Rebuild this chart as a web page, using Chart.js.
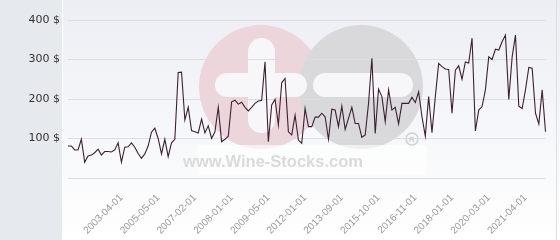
<!DOCTYPE html>
<html>
<head>
<meta charset="utf-8">
<script src="https://cdn.jsdelivr.net/npm/chart.js@4.4.1/dist/chart.umd.min.js"></script>
<style>
  html, body { margin: 0; padding: 0; background: #fff; }
  #wrap { width: 560px; height: 240px; position: relative; }
</style>
</head>
<body>
<div id="wrap"><canvas id="prix"></canvas></div>
<script>
// dates shown under the axis, one every tickStep points
const tickDates = ["2003-04-01", "2005-05-01", "2007-02-01", "2008-01-01", "2009-05-01", "2012-01-01",
  "2013-09-01", "2015-10-01", "2016-11-01", "2018-01-01", "2020-03-01", "2021-04-01"];
const firstTick = 16;
const tickStep = 11;

// prix en $
const prix = [
  81, 81, 71, 71, 98, 40, 56, 58, 64, 73, 58, 67, 67, 66, 71, 89, 40, 78, 79, 89,
  78, 62, 50, 61, 81, 116, 126, 100, 61, 98, 54, 89, 98, 267, 268, 147, 179, 120, 117, 114,
  149, 114, 132, 100, 117, 179, 92, 98,
  106, 193, 197, 187, 192, 179, 170, 179, 189, 195, 197, 294, 92, 185, 199, 134, 241, 252, 117, 109,
  159, 96, 88, 176, 130, 130, 154, 154, 164, 155, 98, 174, 172, 130, 182, 123, 151, 179, 138, 138,
  103, 109, 189, 303, 113, 225, 206,
  143, 223, 172, 179, 137, 189, 189, 189, 204, 191, 218, 155, 106, 206, 115, 206, 290, 282, 276, 275,
  164, 273, 284, 250, 294, 291, 354, 119, 172, 181, 223, 307, 300, 326, 324, 345, 362, 199, 306, 362,
  182, 176, 223, 280, 278, 164, 137, 223, 117
];
const yTicks = [0, 100, 200, 300, 400];

const labels = prix.map((v, i) => {
  const k = (i - firstTick) / tickStep;
  return (k >= 0 && Number.isInteger(k) && k < tickDates.length) ? tickDates[k] : "";
});

function barre(ctx, x, y, w, h) {
  ctx.beginPath();
  ctx.roundRect(x, y, w, h, Math.min(w, h) / 2);
  ctx.fill();
}

// fond gris a gauche, degrade, et logo en filigrane
const fond = {
  id: "fond",
  beforeDraw: (chart) => {
    const ctx = chart.ctx;
    const W = chart.width, H = chart.height;
    ctx.save();
    ctx.fillStyle = "#e6eaee";
    ctx.fillRect(0, 0, 62, H);
    const g = ctx.createLinearGradient(0, 0, 0, H);
    g.addColorStop(0, "#eceef4");
    g.addColorStop(1, "#ffffff");
    ctx.fillStyle = g;
    ctx.fillRect(63, 0, W - 63, H);
    ctx.strokeStyle = "#dedede";
    ctx.lineWidth = 1;
    ctx.beginPath();
    ctx.moveTo(556.5, 0);
    ctx.lineTo(556.5, H);
    ctx.stroke();

    // watermark
    ctx.fillStyle = "#ecd6dc";
    ctx.beginPath();
    ctx.arc(261, 87, 62, 0, Math.PI * 2);
    ctx.fill();
    ctx.fillStyle = "#d9d9db";
    ctx.beginPath();
    ctx.arc(361, 87, 62, 0, Math.PI * 2);
    ctx.fill();
    ctx.fillStyle = "#f7f7fa";
    barre(ctx, 248, 38, 27, 95);
    barre(ctx, 215, 73, 92, 24);
    barre(ctx, 313, 73, 100, 24);

    ctx.fillStyle = "rgba(255,255,255,0.6)";
    ctx.fillRect(197, 145, 230, 30);
    ctx.fillStyle = "#dadada";
    ctx.font = "bold 16.5px 'Liberation Sans', Arial, sans-serif";
    ctx.textAlign = "center";
    ctx.textBaseline = "middle";
    ctx.fillText("www.Wine-Stocks.com", 273, 162);
    ctx.strokeStyle = "#d0d0d0";
    ctx.lineWidth = 1.5;
    ctx.beginPath();
    ctx.arc(412, 139, 6, 0, Math.PI * 2);
    ctx.stroke();
    ctx.font = "bold 8px 'Liberation Sans', Arial, sans-serif";
    ctx.fillStyle = "#d0d0d0";
    ctx.fillText("R", 412, 139.5);
    ctx.restore();
  },
};

const ctx = document.getElementById("prix").getContext("2d");
const chart_prix = new Chart(ctx, {
  type: "line",
  data: {
    labels: labels,
    datasets: [
      {
        label: "Prix",
        data: prix,
        borderColor: "#3d2030",
        borderWidth: 1.1,
        pointRadius: 0,
        fill: false,
        tension: 0,
      },
    ],
  },
  options: {
    responsive: true,
    maintainAspectRatio: false,
    animation: false,
    layout: { padding: { top: 20, right: 6, left: 0, bottom: 0 } },
    plugins: {
      legend: { display: false },
      tooltip: { enabled: false },
    },
    scales: {
      x: {
        grid: { display: false },
        border: { display: false },
        afterFit: (axis) => { axis.height = 62; },
        ticks: {
          autoSkip: false,
          minRotation: 45,
          maxRotation: 45,
          padding: 6,
          color: "#999999",
          font: { family: "'Liberation Sans', Arial, sans-serif", size: 10 },
        },
      },
      y: {
        min: yTicks[0],
        max: yTicks[yTicks.length - 1],
        grid: { color: "#dddddd", drawTicks: false },
        border: { display: false },
        afterFit: (axis) => { axis.width = 68; },
        afterBuildTicks: (axis) => { axis.ticks = yTicks.map((v) => ({ value: v })); },
        ticks: {
          padding: 8,
          color: "#333333",
          font: { family: "'DejaVu Sans', sans-serif", size: 11 },
          callback: (v) => (v === 0 ? "" : v + " $"),
        },
      },
    },
  },
  plugins: [fond],
});
</script>
</body>
</html>
